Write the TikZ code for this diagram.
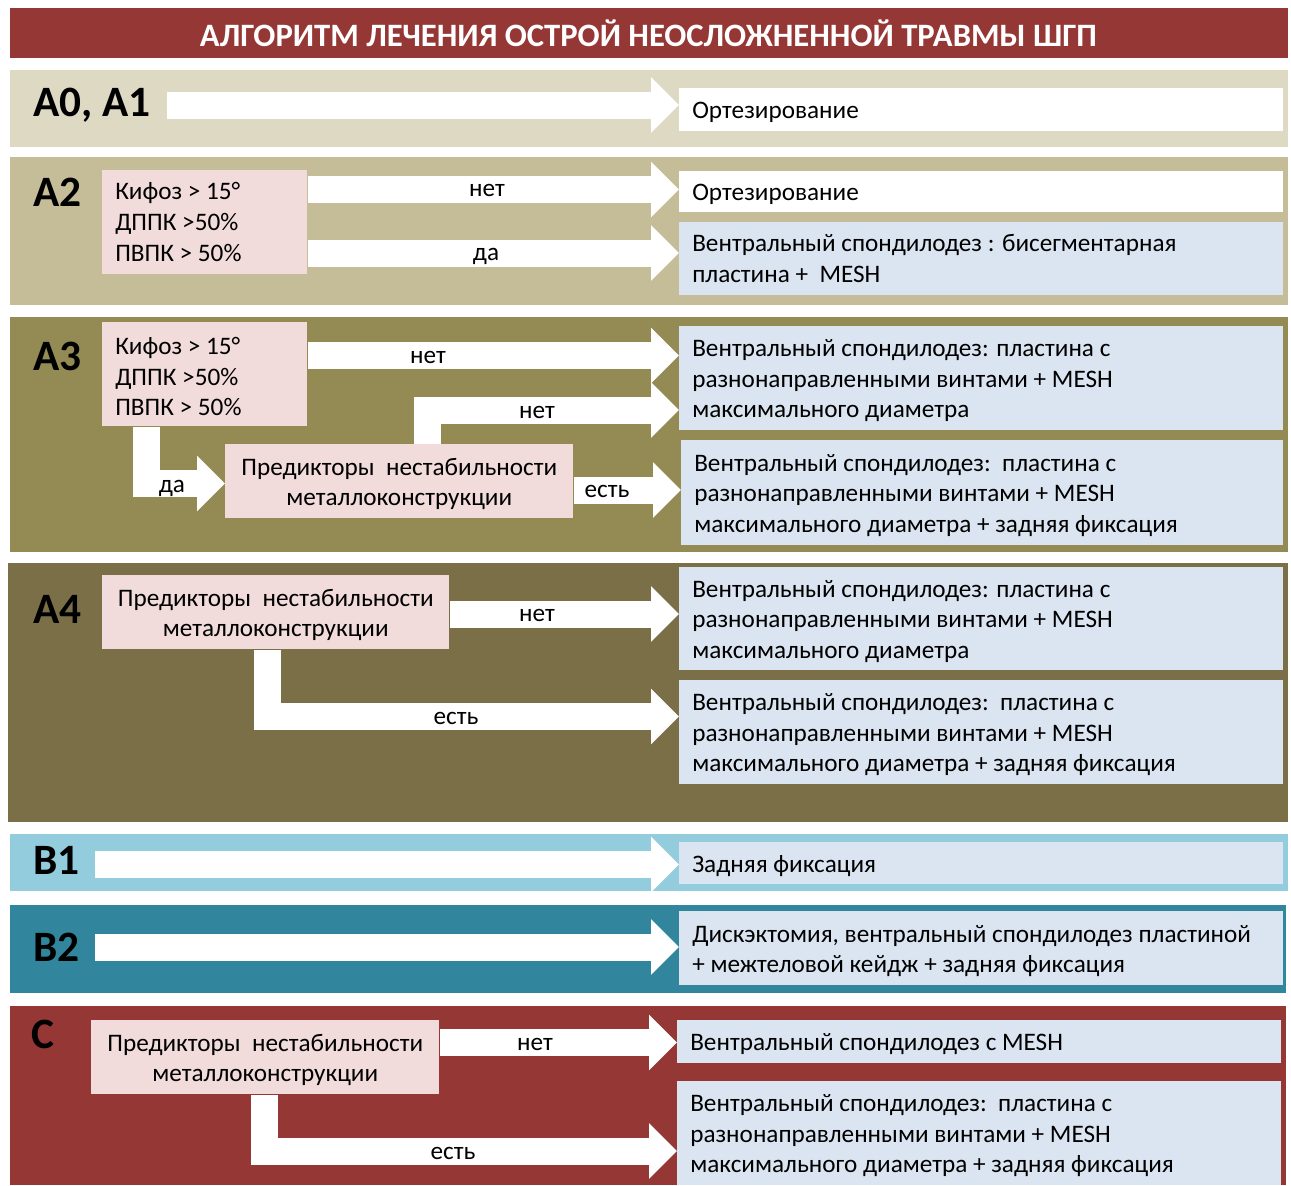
\documentclass[tikz,border=0pt]{standalone}
\usepackage{fontspec}
\setmainfont{Carlito}
\usetikzlibrary{arrows.meta,calc}
\definecolor{hdr}{HTML}{953735}
\definecolor{cA0}{HTML}{DDD9C3}
\definecolor{cA2}{HTML}{C4BD97}
\definecolor{cA3}{HTML}{948A54}
\definecolor{cA4}{HTML}{7A6F47}
\definecolor{cB1}{HTML}{93CDDD}
\definecolor{cB2}{HTML}{31859C}
\definecolor{cC}{HTML}{953735}
\definecolor{pinkbox}{HTML}{F2DCDB}
\definecolor{bluebox}{HTML}{DBE5F1}
\newcommand\bodyfont{\fontsize{18.9}{22.9}\selectfont}
\newcommand\lblfont{\fontsize{32.5}{38}\selectfont\bfseries}
\newcommand\titlefont{\fontsize{24}{28}\selectfont\bfseries}
\tikzset{
  barrow/.style={draw=white, line width=20.25pt, -{Triangle[width=40.5pt,length=21pt]}},
  boxnode/.style={anchor=north west, inner sep=0pt},
  txt/.style={font=\bodyfont, inner sep=0pt, text=black},
  albl/.style={font=\bodyfont, inner sep=0pt, anchor=base, text=black},
  grp/.style={font=\lblfont, inner sep=0pt, anchor=base west, text=black},
}
% [yshift] name x y w h color text  (left-aligned text)
\newcommand\tbl[8][-2pt]{%
  \node[boxnode, fill=#7, minimum width={#5*0.75pt}, minimum height={#6*0.75pt}] (#2) at (#3,#4) {};
  \node[txt, anchor=west, align=left] (#2t) at ([xshift=9.75pt,yshift=#1]#2.west) {#8};
}
% name x y w h color text  (centred text)
\newcommand\tbc[7]{%
  \node[boxnode, fill=#6, minimum width={#4*0.75pt}, minimum height={#5*0.75pt}] (#1) at (#2,#3) {};
  \node[txt, align=center] (#1t) at ([yshift=-2pt]#1.center) {#7};
}
\begin{document}
\begin{tikzpicture}[x=0.75pt,y=-0.75pt]
\useasboundingbox (0,0) rectangle (1291,1185);
\fill[white] (0,0) rectangle (1291,1185);
% header
\fill[hdr] (10,8) rectangle (1288,58);
\node[text=white, font=\titlefont, inner sep=0pt] (title) at (648.5,33) {\resizebox{672.75pt}{!}{АЛГОРИТМ ЛЕЧЕНИЯ ОСТРОЙ НЕОСЛОЖНЕННОЙ ТРАВМЫ ШГП}};
% bands
\fill[cA0] (10,70) rectangle (1288,147);
\fill[cA2] (10,157) rectangle (1288,305);
\fill[cA3] (10,317) rectangle (1288,552);
\fill[cA4] (8,563) rectangle (1288,822);
\fill[cB1] (10,834) rectangle (1288,891);
\fill[cB2] (10,905) rectangle (1286,993);
\fill[cC] (10,1006) rectangle (1286,1185);

% ---------- A0, A1
\node[grp] (gA0) at (33,116) {A0, A1};
\tbl{o1}{679}{88}{604}{43}{white}{Ортезирование}
\coordinate (sA0) at (167,105);
\draw[barrow] (sA0) -- (o1.west |- sA0);

% ---------- A2
\node[grp] (gA2) at (33,206) {A2};
\tbl[0.2pt]{k2}{102}{170}{205}{104}{pinkbox}{Кифоз > 15°\\ДППК >50\%\\ПВПК > 50\%}
\tbl{o2}{679}{171}{604}{41}{white}{Ортезирование}
\tbl[0.2pt]{b2}{679}{222}{604}{73}{bluebox}{Вентральный спондилодез : бисегментарная\\пластина +\ \ MESH}
\draw[barrow] (k2.east |- 0,189.5) -- (o2.west |- 0,189.5);
\draw[barrow] (k2.east |- 0,253) -- (b2.west |- 0,253);
\node[albl] (l21) at (487,196) {нет};
\node[albl] (l22) at (486,260) {да};

% ---------- A3
\node[grp] (gA3) at (33,370) {A3};
\tbl{k3}{102}{322}{205}{104}{pinkbox}{Кифоз > 15°\\ДППК >50\%\\ПВПК > 50\%}
\tbl{b31}{679}{326}{604}{104}{bluebox}{Вентральный спондилодез: пластина с\\разнонаправленными винтами + MESH\\максимального диаметра}
\tbl{b32}{681}{440}{602}{105}{bluebox}{Вентральный спондилодез:\ \ пластина с\\разнонаправленными винтами + MESH\\максимального диаметра + задняя фиксация}
\tbc{pr3}{225}{444}{348}{74}{pinkbox}{Предикторы\ \ нестабильности\\металлоконструкции}
\draw[barrow] (k3.east |- 0,355.5) -- (b31.west |- 0,355.5);
\draw[barrow] (pr3.north -| 427,0) |- (b31.west |- 0,410);
\draw[barrow] (k3.south -| 146,0) |- (pr3.west |- 0,483.5);
\draw[barrow] (pr3.east |- 0,490) -- (b32.west |- 0,490);
\node[albl] (l31) at (428,363) {нет};
\node[albl] (l32) at (537,418) {нет};
\node[albl] (l33) at (172,492) {да};
\node[albl] (l34) at (607,497) {есть};

% ---------- A4
\node[grp] (gA4) at (33,623) {A4};
\tbc{pr4}{102}{575}{347}{74}{pinkbox}{Предикторы\ \ нестабильности\\металлоконструкции}
\tbl{b41}{679}{567}{604}{103}{bluebox}{Вентральный спондилодез: пластина с\\разнонаправленными винтами + MESH\\максимального диаметра}
\tbl{b42}{679}{680}{604}{104}{bluebox}{Вентральный спондилодез:\ \ пластина с\\разнонаправленными винтами + MESH\\максимального диаметра + задняя фиксация}
\draw[barrow] (pr4.east |- 0,614) -- (b41.west |- 0,614);
\draw[barrow] (pr4.south -| 267,0) |- (b42.west |- 0,716.5);
\node[albl] (l41) at (537,621) {нет};
\node[albl] (l42) at (456,724) {есть};

% ---------- B1
\node[grp] (gB1) at (33,874) {B1};
\tbl{bb1}{679}{842}{604}{42}{bluebox}{Задняя фиксация}
\coordinate (sB1) at (95,864.5);
\draw[barrow] (sB1) -- (bb1.west |- sB1);

% ---------- B2
\node[grp] (gB2) at (33,961) {B2};
\tbl{bb2}{679}{911}{604}{74}{bluebox}{Дискэктомия, вентральный спондилодез пластиной\\+ межтеловой кейдж + задняя фиксация}
\coordinate (sB2) at (95,947);
\draw[barrow] (sB2) -- (bb2.west |- sB2);

% ---------- C
\node[grp] (gC) at (31,1048) {C};
\tbc{prC}{91}{1020}{348}{74}{pinkbox}{Предикторы\ \ нестабильности\\металлоконструкции}
\tbl{c1}{677}{1020}{604}{43}{bluebox}{Вентральный спондилодез с MESH}
\tbl{c2}{677}{1081}{604}{104}{bluebox}{Вентральный спондилодез:\ \ пластина с\\разнонаправленными винтами + MESH\\максимального диаметра + задняя фиксация}
\draw[barrow] (prC.east |- 0,1042.5) -- (c1.west |- 0,1042.5);
\draw[barrow] (prC.south -| 264,0) |- (c2.west |- 0,1151);
\node[albl] (lC1) at (535,1050) {нет};
\node[albl] (lC2) at (453,1159) {есть};
\end{tikzpicture}
\end{document}
